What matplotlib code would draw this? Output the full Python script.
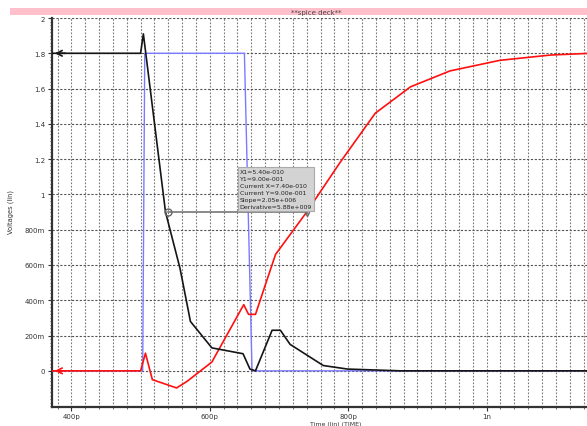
import matplotlib.pyplot as plt
from matplotlib.ticker import MultipleLocator, FixedLocator
from matplotlib.patches import Rectangle

# time in ps, voltage in V
t_black = [372, 500, 504, 536, 557, 572, 603, 648, 658, 666, 690, 702, 716, 764, 799, 875, 1150]
v_black = [1.8, 1.8, 1.91, 0.9, 0.58, 0.28, 0.13, 0.097, 0.01, 0.0, 0.23, 0.23, 0.15, 0.03, 0.01, 0.0, 0.0]

t_blue = [372, 503, 506, 650, 661, 1150]
v_blue = [0, 0, 1.8, 1.8, 0, 0]

t_red = [372, 500, 507, 517, 552, 567, 603, 649, 656, 666, 683, 695, 740, 788, 839, 890, 947, 1019, 1092, 1150]
v_red = [0, 0, 0.1, -0.05, -0.097, -0.06, 0.05, 0.375, 0.32, 0.32, 0.52, 0.66, 0.9, 1.18, 1.46, 1.61, 1.70, 1.76, 1.79, 1.8]

x_ticks = [400, 600, 800, 1000]
x_ticklabels = ['400p', '600p', '800p', '1n']
y_ticks = [0, 0.2, 0.4, 0.6, 0.8, 1.0, 1.2, 1.4, 1.6, 1.8, 2.0]
y_ticklabels = ['0', '200m', '400m', '600m', '800m', '1', '1.2', '1.4', '1.6', '1.8', '2']

cursor_x = [540, 740]
cursor_y = 0.9
cursor_text = ("X1=5.40e-010\nY1=9.00e-001\nCurrent X=7.40e-010\n"
               "Current Y=9.00e-001\nSlope=2.05e+006\nDerivative=5.88e+009")

fig = plt.figure(figsize=(5.87, 4.27), dpi=100)
ax = fig.add_axes([0.0886, 0.0445, 0.9114, 0.911])

ax.plot(t_blue, v_blue, color='#7a7aff', lw=1.0, zorder=3)
ax.plot(t_red, v_red, color='#ff1010', lw=1.2, zorder=4)
ax.plot(t_black, v_black, color='#151515', lw=1.2, zorder=5)

ax.set_xlim(372, 1145)
ax.set_ylim(-0.205, 2.0)

ax.xaxis.set_major_locator(FixedLocator(x_ticks))
ax.set_xticklabels(x_ticklabels)
ax.xaxis.set_minor_locator(MultipleLocator(20))
ax.yaxis.set_major_locator(FixedLocator(y_ticks))
ax.set_yticklabels(y_ticklabels)
ax.yaxis.set_minor_locator(MultipleLocator(0.02))

ax.tick_params(axis='both', which='major', labelsize=5, length=3, width=0.8,
               colors='#333333', pad=2)
ax.tick_params(axis='x', which='major', pad=1)
ax.tick_params(axis='both', which='minor', length=1.5, width=0.6, color='#555555')

# grid: dotted verticals every 20p, dashed horizontals every 0.2
ax.grid(True, which='minor', axis='x', color='#777777', linestyle=(0, (1.5, 1.5)), lw=0.8)
ax.grid(True, which='major', axis='x', color='#777777', linestyle=(0, (1.5, 1.5)), lw=0.8)
ax.grid(True, which='major', axis='y', color='#555555', linestyle=(0, (2, 1.5)), lw=0.8)

for s in ['top', 'right']:
    ax.spines[s].set_visible(False)
for s in ['left', 'bottom']:
    ax.spines[s].set_linewidth(1.6)
    ax.spines[s].set_color('#333333')

ax.set_ylabel('Voltages (lin)', fontsize=4.8, color='#333333')
ax.yaxis.set_label_coords(-0.071, 0.504)
ax.set_xlabel('Time (lin) (TIME)', fontsize=4.5, color='#333333', va='center')
ax.xaxis.set_label_coords(0.53, -0.043)

# start-level arrows at the left edge
ax.annotate('', xy=(0.0, 1.8), xycoords=('axes fraction', 'data'),
            xytext=(0.03, 1.8), textcoords=('axes fraction', 'data'),
            arrowprops=dict(arrowstyle='->', color='#151515', lw=1.2), zorder=6)
ax.annotate('', xy=(0.0, 0.0), xycoords=('axes fraction', 'data'),
            xytext=(0.03, 0.0), textcoords=('axes fraction', 'data'),
            arrowprops=dict(arrowstyle='->', color='#ff1010', lw=1.2), zorder=6)

# cursor measurement
ax.plot(cursor_x, [cursor_y, cursor_y], color='#777777', lw=1.2, zorder=6)
ax.plot(cursor_x[0], cursor_y, marker='o', ms=5, mfc='none', mec='#666666', zorder=7)
ax.plot(cursor_x[1], cursor_y, marker='d', ms=4, mfc='none', mec='#666666', zorder=7)
ax.text(643, 0.918, cursor_text, fontsize=4.5, color='#222222', va='bottom', ha='left',
        linespacing=1.5, zorder=8,
        bbox=dict(boxstyle='square,pad=0.3', fc='#d3d3d3', ec='#aaaaaa', lw=0.8))

# title bar
fig.patches.append(Rectangle((10 / 587, 1 - 16 / 427), 1.0, 7 / 427, transform=fig.transFigure,
                             facecolor='#ffc0cb', edgecolor='none'))
fig.text(316 / 587, 1 - 12.5 / 427, '**spice deck**', fontsize=5, color='#444444',
         ha='center', va='center')

fig.savefig('out.png', dpi=100)
